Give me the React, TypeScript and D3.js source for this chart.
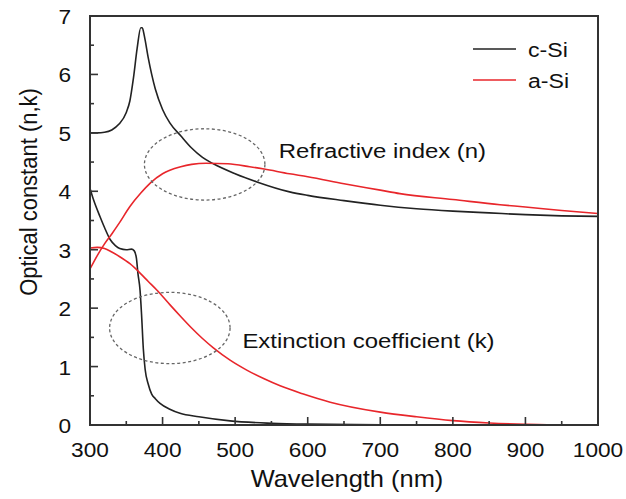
import * as d3 from "d3";

// c-Si refractive index n
const cSiNWl = [300, 310, 320, 330, 340, 350, 355, 360, 365, 370, 372, 375, 380, 385, 390, 400, 410, 425, 440, 455, 470, 500, 530, 575, 600, 650, 700, 750, 800, 850, 900, 950, 1000];
const cSiN = [5.0, 5.0, 5.01, 5.05, 5.15, 5.35, 5.55, 5.95, 6.45, 6.8, 6.8, 6.65, 6.3, 6.0, 5.75, 5.4, 5.17, 4.95, 4.74, 4.58, 4.47, 4.3, 4.16, 3.99, 3.93, 3.84, 3.76, 3.7, 3.66, 3.63, 3.6, 3.58, 3.57];

// a-Si refractive index n
const aSiNWl = [300, 310, 320, 330, 340, 355, 370, 383, 400, 410, 425, 440, 460, 490, 520, 540, 575, 600, 650, 700, 727, 800, 865, 900, 950, 1000];
const aSiN = [2.67, 2.9, 3.1, 3.27, 3.45, 3.74, 3.97, 4.14, 4.3, 4.36, 4.42, 4.46, 4.48, 4.47, 4.42, 4.38, 4.3, 4.25, 4.13, 4.02, 3.96, 3.86, 3.77, 3.73, 3.67, 3.62];

// c-Si extinction coefficient k
const cSiKWl = [300, 305, 314, 320, 328, 335, 341, 350, 357, 361, 364, 366, 369, 371, 373.5, 376, 380, 385, 390, 396.5, 410, 424, 450, 493, 550, 600, 700, 800, 1000];
const cSiK = [4.05, 3.85, 3.56, 3.38, 3.17, 3.07, 3.02, 3.0, 3.01, 2.98, 2.85, 2.6, 2.3, 1.9, 1.3, 0.95, 0.71, 0.53, 0.45, 0.37, 0.27, 0.2, 0.14, 0.07, 0.03, 0.015, 0.005, 0, 0];

// a-Si extinction coefficient k
const aSiKWl = [300, 310, 320, 330, 341, 355, 369, 380, 392, 410, 424, 440, 455, 470, 493, 516, 540, 562, 594, 631, 700, 750, 800, 850, 900, 950, 1000];
const aSiK = [3.03, 3.04, 3.02, 2.96, 2.88, 2.76, 2.6, 2.46, 2.31, 2.06, 1.87, 1.66, 1.48, 1.32, 1.11, 0.94, 0.79, 0.67, 0.53, 0.39, 0.22, 0.14, 0.075, 0.035, 0.012, 0, 0];

const xTicks = [300, 400, 500, 600, 700, 800, 900, 1000];
const xMinor = [350, 450, 550, 650, 750, 850, 950];
const yTicks = [0, 1, 2, 3, 4, 5, 6, 7];
const yMinor = [0.5, 1.5, 2.5, 3.5, 4.5, 5.5, 6.5];

const seriesNames = ["c-Si", "a-Si"];
const BLACK = "#222";
const RED = "#e8262b";

// annotation ellipses: center wavelength, center value, label
const ellipses = [
  { wl: 458, v: 4.46, label: "Refractive index (n)" },
  { wl: 410, v: 1.66, label: "Extinction coefficient (k)" },
];

export default function App() {
  const W = 626;
  const H = 499;
  const margin = { top: 16, right: 28, bottom: 74, left: 90 };
  const iw = W - margin.left - margin.right;
  const ih = H - margin.top - margin.bottom;

  const x = d3.scaleLinear().domain([300, 1000]).range([0, iw]);
  const y = d3.scaleLinear().domain([0, 7]).range([ih, 0]);

  const line = d3
    .line<[number, number]>()
    .x((d) => x(d[0]))
    .y((d) => y(d[1]))
    .curve(d3.curveMonotoneX);

  const zip = (a: number[], b: number[]) => a.map((w, i) => [w, b[i]] as [number, number]);

  const font = "'Liberation Sans', Arial, sans-serif";
  const axisColor = "#333";

  // ellipse radii in data units
  const rxWl = 83;
  const ryV = 0.61;

  return (
    <svg
      width={W}
      height={H}
      style={{ position: "fixed", left: 0, top: 0, background: "#fff" }}
      fontFamily={font}
    >
      <g transform={`translate(${margin.left},${margin.top})`}>
        {/* curves */}
        <path d={line(zip(cSiNWl, cSiN)) || ""} fill="none" stroke={BLACK} strokeWidth={1.6} />
        <path d={line(zip(cSiKWl, cSiK)) || ""} fill="none" stroke={BLACK} strokeWidth={1.6} />
        <path d={line(zip(aSiNWl, aSiN)) || ""} fill="none" stroke={RED} strokeWidth={1.6} />
        <path d={line(zip(aSiKWl, aSiK)) || ""} fill="none" stroke={RED} strokeWidth={1.6} />

        {/* annotation ellipses */}
        {ellipses.map((e, i) => (
          <ellipse
            key={i}
            cx={x(e.wl)}
            cy={y(e.v)}
            rx={x(300 + rxWl) - x(300)}
            ry={y(0) - y(ryV)}
            fill="none"
            stroke="#666"
            strokeWidth={1.3}
            strokeDasharray="3,2.5"
          />
        ))}
        <text transform={`translate(${x(560)},${y(4.5) - 4}) scale(1.14,1)`} fontSize={21} fill="#111">
          {ellipses[0].label}
        </text>
        <text transform={`translate(${x(510)},${y(1.3) - 1}) scale(1.14,1)`} fontSize={21} fill="#111">
          {ellipses[1].label}
        </text>

        {/* frame */}
        <rect x={0} y={0} width={iw} height={ih} fill="none" stroke={axisColor} strokeWidth={2} />

        {/* x ticks */}
        {xTicks.map((t) => (
          <g key={"x" + t} transform={`translate(${x(t)},${ih})`}>
            <line y1={0} y2={-8} stroke={axisColor} strokeWidth={1.6} />
            <text transform={`translate(0,32) scale(1.08,1)`} textAnchor="middle" fontSize={21} fill="#111">
              {t}
            </text>
          </g>
        ))}
        {xMinor.map((t) => (
          <line key={"xm" + t} x1={x(t)} x2={x(t)} y1={ih} y2={ih - 4} stroke={axisColor} strokeWidth={1.6} />
        ))}

        {/* y ticks */}
        {yTicks.map((t) => (
          <g key={"y" + t} transform={`translate(0,${y(t)})`}>
            <line x1={0} x2={8} stroke={axisColor} strokeWidth={1.6} />
            <text transform={`translate(-19,8) scale(1.08,1)`} textAnchor="end" fontSize={21} fill="#111">
              {t}
            </text>
          </g>
        ))}
        {yMinor.map((t) => (
          <line key={"ym" + t} x1={0} x2={4} y1={y(t)} y2={y(t)} stroke={axisColor} strokeWidth={1.6} />
        ))}

        {/* legend */}
        {seriesNames.map((s, i) => (
          <g key={s} transform={`translate(${iw - 125},${33 + i * 31})`}>
            <line x1={0} x2={43} y1={0} y2={0} stroke={i === 0 ? BLACK : RED} strokeWidth={1.6} />
            <text transform={`translate(55,8) scale(1.1,1)`} fontSize={21} fill="#111">
              {s}
            </text>
          </g>
        ))}
      </g>

      {/* axis titles */}
      <text transform={`translate(347,487) scale(1.06,1)`} textAnchor="middle" fontSize={24} fill="#111">
        Wavelength (nm)
      </text>
      <text transform={`translate(37,192) scale(1.1,1) rotate(-90)`} textAnchor="middle" fontSize={22} fill="#111">
        Optical constant (n,k)
      </text>
    </svg>
  );
}
